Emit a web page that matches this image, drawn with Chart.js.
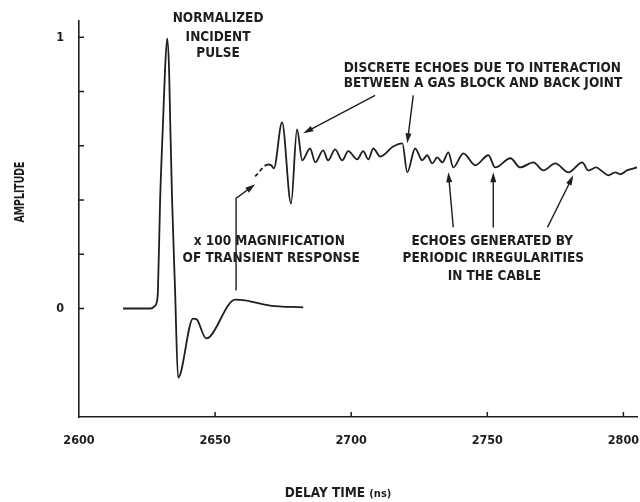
<!DOCTYPE html>
<html lang="en">
<head>
    <meta charset="UTF-8">
    <title>Amplitude vs delay time</title>
    <style>
        body { margin: 0; background: #fff; }
        #chart { display: block; }
    </style>
</head>
<body>
    <canvas id="chart" width="640" height="502"></canvas>

    <script src="https://cdn.jsdelivr.net/npm/chart.js"></script>
    <script>
        // incident pulse + x100 transient response
        var pulseX = [2616.2, 2626.1, 2627.6, 2628.7, 2629.0, 2629.8, 2630.9, 2631.6, 2632.4, 2633.1, 2633.5, 2634.2, 2635.3, 2636.4,
                      2641.9, 2643.2, 2646.7, 2648.0, 2657.4, 2661.0, 2670.2, 2682.4];
        var pulseY = [0, 0, 0.007, 0.03, 0.066, 0.399, 0.694, 0.878, 0.996, 0.878, 0.694, 0.399, 0.066, -0.255,
                      -0.037, -0.04, -0.11, -0.105, 0.033, 0.03, 0.011, 0.004];

        // echoes (magnified)
        var echoX = [2664.7, 2669.5, 2670.6, 2671.6, 2674.6, 2677.9, 2680.1, 2682.0, 2684.9, 2686.8, 2689.7, 2691.5, 2694.1, 2696.7,
                     2698.9, 2702.2, 2704.4, 2706.3, 2708.1, 2710.7, 2715.4, 2718.8, 2720.6, 2723.5, 2726.1, 2727.9, 2729.8, 2731.6,
                     2733.5, 2735.7, 2737.5, 2741.2, 2745.6, 2750.4, 2752.9, 2758.5, 2762.1, 2766.9, 2770.6, 2775.0, 2779.8, 2784.9,
                     2787.1, 2790.0, 2792.3, 2794.5, 2797.0, 2798.9, 2801.5, 2805.0];
        var echoY = [0.487, 0.531, 0.528, 0.517, 0.686, 0.387, 0.66, 0.546, 0.59, 0.539, 0.583, 0.546, 0.587, 0.546,
                     0.58, 0.55, 0.58, 0.55, 0.59, 0.56, 0.597, 0.609, 0.502, 0.59, 0.546, 0.565, 0.535, 0.557,
                     0.539, 0.576, 0.52, 0.572, 0.528, 0.565, 0.52, 0.554, 0.52, 0.539, 0.509, 0.535, 0.502, 0.539,
                     0.509, 0.52, 0.505, 0.491, 0.502, 0.495, 0.51, 0.52];

        var xTicks = [2600, 2650, 2700, 2750, 2800];
        var yTicks = [0, 0.2, 0.4, 0.6, 0.8, 1];
        var yTickLabels = {0: '0', 1: '1'};

        // annotation texts, placed in data units
        var notes = [
            {text: 'NORMALIZED', x: 2651.1, y: 1.070},
            {text: 'INCIDENT', x: 2651.1, y: 1.000},
            {text: 'PULSE', x: 2651.1, y: 0.941},
            {text: 'DISCRETE ECHOES DUE TO INTERACTION', x: 2748.2, y: 0.886},
            {text: 'BETWEEN A GAS BLOCK AND BACK JOINT', x: 2748.4, y: 0.830},
            {text: 'x 100 MAGNIFICATION', x: 2669.9, y: 0.247},
            {text: 'OF TRANSIENT RESPONSE', x: 2670.6, y: 0.185},
            {text: 'ECHOES GENERATED BY', x: 2751.8, y: 0.247},
            {text: 'PERIODIC IRREGULARITIES', x: 2752.2, y: 0.185},
            {text: 'IN THE CABLE', x: 2752.6, y: 0.118}
        ];
        // arrows: list of [x, y] points, last one is the tip
        var arrows = [
            [[2708.8, 0.786], [2682.4, 0.646]],
            [[2722.8, 0.786], [2720.6, 0.609]],
            [[2657.7, 0.066], [2657.7, 0.406], [2664.7, 0.458]],
            [[2737.5, 0.299], [2735.7, 0.502]],
            [[2752.2, 0.299], [2752.2, 0.502]],
            [[2772.1, 0.299], [2781.6, 0.491]]
        ];

        var ink = '#1e1e1e';
        var fontFamily = "'Liberation Sans Narrow', 'DejaVu Sans Condensed', 'Liberation Sans', sans-serif";

        var annotate = {
            id: 'annotate',
            afterDraw(chart) {
                var ctx = chart.ctx;
                var x = chart.scales.x, y = chart.scales.y;
                var area = chart.chartArea;
                ctx.save();
                ctx.strokeStyle = ink;
                ctx.fillStyle = ink;
                ctx.lineWidth = 1.5;

                // inward tick marks
                x.ticks.forEach(function (t) {
                    if (t.value === x.min) return;
                    var px = x.getPixelForValue(t.value);
                    ctx.beginPath(); ctx.moveTo(px, area.bottom); ctx.lineTo(px, area.bottom - 5); ctx.stroke();
                });
                y.ticks.forEach(function (t) {
                    var py = y.getPixelForValue(t.value);
                    ctx.beginPath(); ctx.moveTo(area.left, py); ctx.lineTo(area.left + 5, py); ctx.stroke();
                });

                // texts
                ctx.font = 'bold 13.5px ' + fontFamily;
                ctx.textAlign = 'center';
                ctx.textBaseline = 'middle';
                notes.forEach(function (n) {
                    ctx.fillText(n.text, x.getPixelForValue(n.x), y.getPixelForValue(n.y));
                });

                // arrows
                ctx.lineWidth = 1.4;
                arrows.forEach(function (a) {
                    var pts = a.map(function (p) { return [x.getPixelForValue(p[0]), y.getPixelForValue(p[1])]; });
                    var tip = pts[pts.length - 1], prev = pts[pts.length - 2];
                    var ang = Math.atan2(tip[1] - prev[1], tip[0] - prev[0]);
                    var len = 10, half = 3;
                    ctx.beginPath();
                    ctx.moveTo(pts[0][0], pts[0][1]);
                    for (var i = 1; i < pts.length - 1; i++) ctx.lineTo(pts[i][0], pts[i][1]);
                    ctx.lineTo(tip[0] - Math.cos(ang) * len * 0.8, tip[1] - Math.sin(ang) * len * 0.8);
                    ctx.stroke();
                    ctx.beginPath();
                    ctx.moveTo(tip[0], tip[1]);
                    ctx.lineTo(tip[0] - Math.cos(ang) * len - Math.sin(ang) * half, tip[1] - Math.sin(ang) * len + Math.cos(ang) * half);
                    ctx.lineTo(tip[0] - Math.cos(ang) * len + Math.sin(ang) * half, tip[1] - Math.sin(ang) * len - Math.cos(ang) * half);
                    ctx.closePath();
                    ctx.fill();
                });

                // axis titles
                ctx.font = 'bold 14px ' + fontFamily;
                ctx.save();
                ctx.translate(20, 192);
                ctx.rotate(-Math.PI / 2);
                ctx.scale(0.74, 1);
                ctx.fillText('AMPLITUDE', 0, 0);
                ctx.restore();

                ctx.textAlign = 'left';
                var main = 'DELAY TIME ';
                ctx.font = 'bold 13.5px ' + fontFamily;
                var w1 = ctx.measureText(main).width;
                ctx.font = 'bold 11px ' + fontFamily;
                var w2 = ctx.measureText('(ns)').width;
                var startX = 338 - (w1 + w2) / 2;
                ctx.font = 'bold 13.5px ' + fontFamily;
                ctx.fillText(main, startX, 493);
                ctx.font = 'bold 11px ' + fontFamily;
                ctx.fillText('(ns)', startX + w1, 494);
                ctx.restore();
            }
        };

        function toPoints(xs, ys) {
            return xs.map(function (v, i) { return {x: v, y: ys[i]}; });
        }

        new Chart(document.getElementById('chart'), {
            type: 'line',
            data: {
                datasets: [{
                    label: 'Incident pulse',
                    data: toPoints(pulseX, pulseY),
                    borderColor: ink,
                    borderWidth: 1.8,
                    pointRadius: 0,
                    cubicInterpolationMode: 'monotone',
                    fill: false
                }, {
                    label: 'Echoes',
                    data: toPoints(echoX, echoY),
                    borderColor: ink,
                    borderWidth: 1.8,
                    pointRadius: 0,
                    cubicInterpolationMode: 'monotone',
                    fill: false,
                    segment: {
                        borderDash: function (c) { return c.p0DataIndex === 0 ? [4, 3] : undefined; }
                    }
                }]
            },
            options: {
                responsive: false,
                animation: false,
                layout: { padding: { top: 21, right: 3, left: 0, bottom: 0 } },
                plugins: { legend: { display: false }, tooltip: { enabled: false } },
                scales: {
                    x: {
                        type: 'linear',
                        min: 2600,
                        max: 2805,
                        afterBuildTicks: function (s) { s.ticks = xTicks.map(function (v) { return {value: v}; }); },
                        afterFit: function (s) { s.height = 85; s.paddingRight = 0; s.paddingLeft = 0; },
                        grid: { display: false },
                        border: { color: ink, width: 1.6 },
                        ticks: {
                            padding: 8,
                            maxRotation: 0,
                            color: ink,
                            font: { family: fontFamily, size: 12.5, weight: 'bold' },
                            callback: function (v) { return String(v); }
                        }
                    },
                    y: {
                        type: 'linear',
                        min: -0.4,
                        max: 1.06,
                        afterBuildTicks: function (s) { s.ticks = yTicks.map(function (v) { return {value: v}; }); },
                        afterFit: function (s) { s.width = 79; s.paddingTop = 0; s.paddingBottom = 0; },
                        grid: { display: false },
                        border: { color: ink, width: 1.6 },
                        ticks: {
                            padding: 7,
                            color: ink,
                            font: { family: fontFamily, size: 12.5, weight: 'bold' },
                            callback: function (v) { return yTickLabels[v] !== undefined ? yTickLabels[v] : ''; }
                        }
                    }
                }
            },
            plugins: [annotate]
        });
    </script>
</body>
</html>
